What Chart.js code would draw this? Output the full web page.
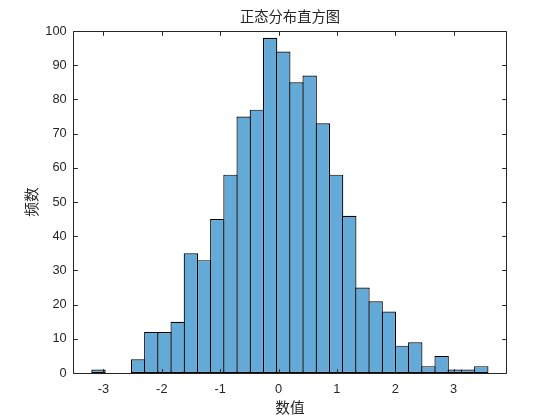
<!DOCTYPE html>
<html>
<head>
<meta charset="utf-8">
<script src="https://cdn.jsdelivr.net/npm/chart.js@4/dist/chart.umd.min.js"></script>
<style>
  html, body { margin: 0; padding: 0; background: #ffffff; }
  canvas { display: block; }
</style>
</head>
<body>
<canvas id="c" width="560" height="420"></canvas>
<script>
// Histogram bin centres (bin width ≈ 0.2262, 30 bins from -3.198 to 3.588)
const binCenters = [
  -3.085, -2.859, -2.633, -2.406, -2.180, -1.954, -1.728, -1.502, -1.275, -1.049,
  -0.823, -0.597, -0.371, -0.144,  0.082,  0.308,  0.534,  0.760,  0.987,  1.213,
   1.439,  1.665,  1.892,  2.118,  2.344,  2.570,  2.796,  3.022,  3.249,  3.475
];
// Counts per bin
const counts = [
  1, 0, 0, 4, 12, 12, 15, 35, 33, 45,
  58, 75, 77, 98, 94, 85, 87, 73, 58, 46,
  25, 21, 18, 8, 9, 2, 5, 1, 1, 2
];
const xTickValues = [-3, -2, -1, 0, 1, 2, 3];
const yTickValues = [0, 10, 20, 30, 40, 50, 60, 70, 80, 90, 100];
const xRange = [-3.517, 3.911];
const yRange = [0, 100];
const titleText = '正态分布直方图';
const xLabel = '数值';
const yLabel = '频数';

const AXIS = '#262626';
const NUMFONT = '"Liberation Sans", Arial, Helvetica, sans-serif';
const CJKFONT = '"Noto Sans CJK SC", "Noto Sans", sans-serif';

const frame = {
  id: 'frame',
  afterDatasetsDraw(chart) {
    const {ctx, chartArea: a, scales: {x, y}} = chart;
    const L = Math.round(a.left) + 0.5, R = Math.round(a.right) - 0.5;
    const T = Math.round(a.top) + 0.5, B = Math.round(a.bottom) + 0.5;
    const tl = 4.3;
    ctx.save();
    ctx.strokeStyle = AXIS;
    ctx.lineWidth = 1;
    ctx.beginPath();
    ctx.rect(L, T, R - L, B - T);
    x.ticks.forEach(t => {
      const px = Math.round(x.getPixelForValue(t.value)) + 0.5;
      ctx.moveTo(px, B); ctx.lineTo(px, B - tl);
      ctx.moveTo(px, T); ctx.lineTo(px, T + tl);
    });
    y.ticks.forEach(t => {
      const py = Math.round(y.getPixelForValue(t.value)) + 0.5;
      ctx.moveTo(L, py); ctx.lineTo(L + tl, py);
      ctx.moveTo(R, py); ctx.lineTo(R - tl, py);
    });
    ctx.stroke();
    ctx.restore();
  }
};

new Chart(document.getElementById('c'), {
  type: 'bar',
  data: {
    datasets: [{
      data: counts.map((c, i) => ({x: binCenters[i], y: c})),
      backgroundColor: 'rgb(100,170,216)',
      borderColor: '#000000',
      borderWidth: 1.2,
      borderSkipped: false,
      inflateAmount: 0,
      barPercentage: 1.091,
      categoryPercentage: 1,
      grouped: false
    }]
  },
  options: {
    responsive: false,
    animation: false,
    devicePixelRatio: 1,
    layout: { padding: { left: 0, right: 53.3, top: 0, bottom: 0 } },
    plugins: {
      legend: { display: false },
      tooltip: { enabled: false },
      title: {
        display: true,
        text: titleText,
        fullSize: false,
        color: AXIS,
        font: { family: CJKFONT, size: 14.3, weight: 'normal', lineHeight: 1.2 },
        padding: { top: 8.42, bottom: 5.42 }
      }
    },
    scales: {
      x: {
        type: 'linear',
        offset: false,
        min: xRange[0],
        max: xRange[1],
        afterBuildTicks: s => { s.ticks = xTickValues.map(v => ({value: v})); },
        afterFit: s => { s.height = 47; },
        grid: { display: false, drawTicks: false },
        border: { display: false },
        ticks: {
          color: AXIS,
          padding: 8.3,
          maxRotation: 0,
          font: { family: NUMFONT, size: 12.8 }
        },
        title: {
          display: true,
          text: xLabel,
          color: AXIS,
          font: { family: CJKFONT, size: 14.7, lineHeight: 1.2 },
          padding: { top: 0, bottom: 4.18 }
        }
      },
      y: {
        min: yRange[0],
        max: yRange[1],
        afterBuildTicks: s => { s.ticks = yTickValues.map(v => ({value: v})); },
        afterFit: s => { s.width = 73.3; },
        grid: { display: false, drawTicks: false },
        border: { display: false },
        ticks: {
          color: AXIS,
          padding: 6.6,
          font: { family: NUMFONT, size: 12.8 }
        },
        title: {
          display: true,
          text: yLabel,
          color: AXIS,
          font: { family: CJKFONT, size: 14.7, lineHeight: 1.2 },
          padding: { top: 22.98, bottom: 0 }
        }
      }
    }
  },
  plugins: [frame]
});
</script>
</body>
</html>
